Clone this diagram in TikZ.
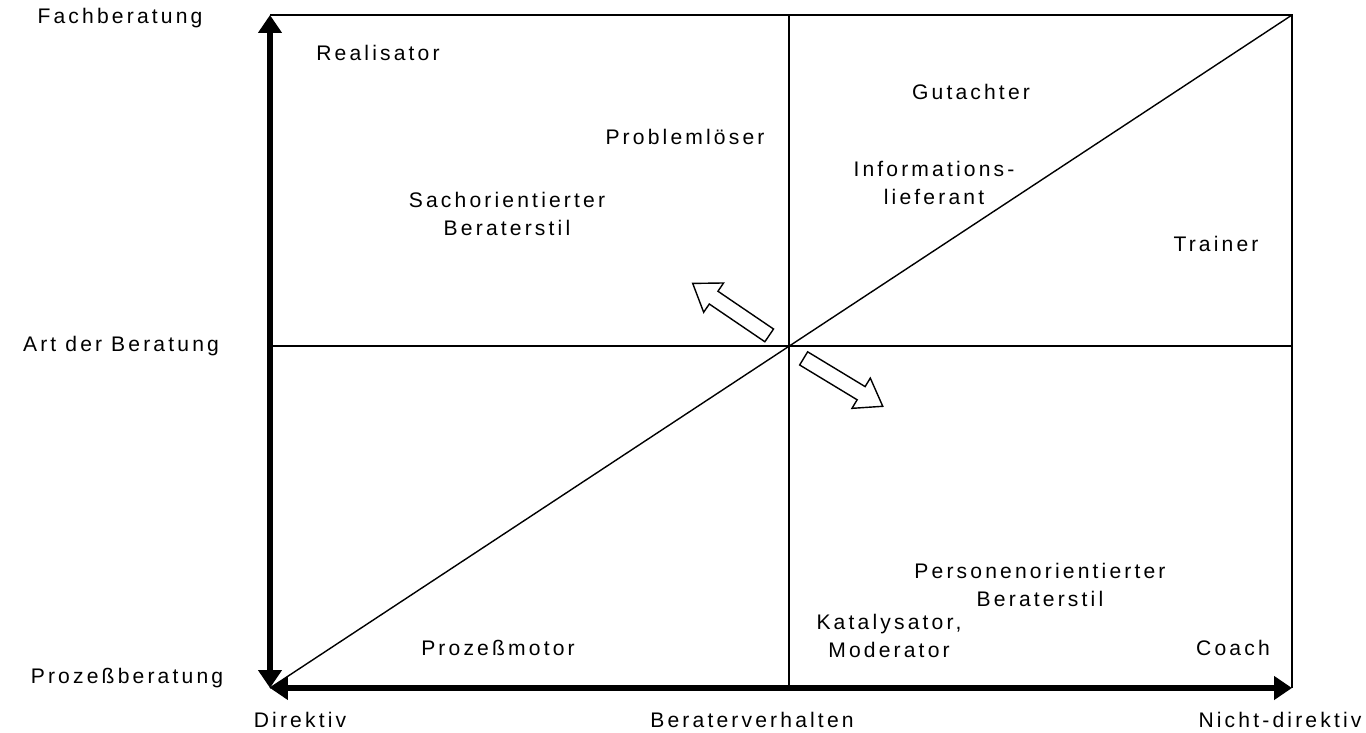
\documentclass[tikz,border=0pt]{standalone}
\usepackage{fontspec}
\setmainfont[LetterSpace=15]{Liberation Sans}
\usetikzlibrary{arrows.meta, shapes.arrows}

\begin{document}
\begin{tikzpicture}[
		x=0.02cm, y=-0.02cm,
		frame/.style={line width=0.8pt},
		axis/.style={line width=3.4pt, {Triangle[length=0.36cm, width=0.46cm]}-{Triangle[length=0.36cm, width=0.46cm]}},
		labeltext/.style={font=\fontsize{12}{16}\selectfont, align=center, inner sep=0pt},
		hollow/.style={single arrow, draw, line width=0.8pt, fill=white, inner sep=0.14cm,
			single arrow head extend=0.2cm, single arrow tip angle=70, minimum height=1.85cm}
		]
		\useasboundingbox (0,0) rectangle (1366,733);
		
		% ==========================================
		% Frame and quadrants
		% ==========================================
		\coordinate (sw) at (270,688);
		\coordinate (nw) at (270,15);
		\coordinate (ne) at (1292,15);
		\coordinate (se) at (1292,688);
		\coordinate (top) at (789,15);
		\coordinate (bottom) at (789,688);
		\coordinate (left) at (270,346);
		\coordinate (right) at (1292,346);
		
		\draw[frame] (nw) -- (ne) -- (se);
		\draw[frame] (top) -- (bottom);
		\draw[frame] (left) -- (right);
		\draw[frame] (sw) -- (ne);
		
		% Axes
		\draw[axis] (sw) -- (nw);
		\draw[axis] (sw) -- (se);
		
		% Hollow arrows from the centre
		\node[hollow, rotate=145.8] (toSach) at (735.5,312.5) {};
		\node[hollow, rotate=-31.2] (toPerson) at (838.5,379.5) {};
		
		% ==========================================
		% Axis labels
		% ==========================================
		\node[labeltext] (fach) at (120,18) {Fachberatung};
		\node[labeltext] (art) at (121,346) {Art der Beratung};
		\node[labeltext] (prozess) at (127,678) {Prozeßberatung};
		\node[labeltext] (direktiv) at (300,720) {Direktiv};
		\node[labeltext] (verhalten) at (752,720) {Beraterverhalten};
		\node[labeltext] (nichtdirektiv) at (1280,720) {Nicht-direktiv};
		
		% ==========================================
		% Roles
		% ==========================================
		\node[labeltext] (realisator) at (378,53) {Realisator};
		\node[labeltext] (problem) at (685,137) {Problemlöser};
		\node[labeltext] (sach) at (507,214) {Sachorientierter\\Beraterstil};
		\node[labeltext] (gutachter) at (971,92) {Gutachter};
		\node[labeltext] (info) at (934,183) {Informations-\\lieferant};
		\node[labeltext] (trainer) at (1216,244) {Trainer};
		\node[labeltext] (person) at (1040,585) {Personenorientierter\\Beraterstil};
		\node[labeltext] (kataly) at (889,636) {Katalysator,\\Moderator};
		\node[labeltext] (motor) at (498,648) {Prozeßmotor};
		\node[labeltext] (coach) at (1233,648) {Coach};
		
	\end{tikzpicture}
\end{document}
